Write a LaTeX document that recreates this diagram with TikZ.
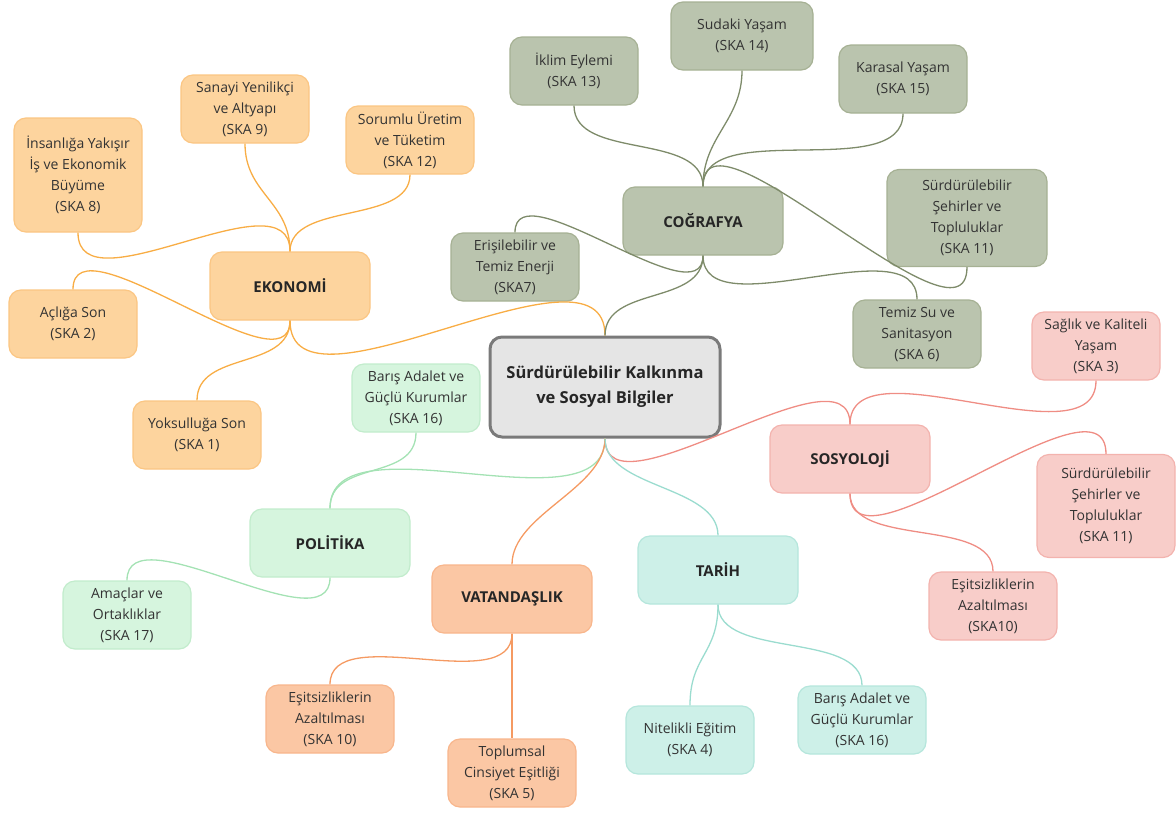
\documentclass[tikz,border=0pt]{standalone}
\usepackage{fontspec}
\setmainfont{Open Sans}
\definecolor{ekofill}{HTML}{FDD49E}
\definecolor{ekodraw}{HTML}{FBC683}
\definecolor{ekoline}{HTML}{F8AD45}
\definecolor{cogfill}{HTML}{BAC4AE}
\definecolor{cogdraw}{HTML}{A6B194}
\definecolor{cogline}{HTML}{7E8B6A}
\definecolor{sosfill}{HTML}{F8CDC9}
\definecolor{sosdraw}{HTML}{F3B3AE}
\definecolor{sosline}{HTML}{EF8D84}
\definecolor{polfill}{HTML}{D6F5DE}
\definecolor{poldraw}{HTML}{C2ECCC}
\definecolor{polline}{HTML}{A4E2B4}
\definecolor{vatfill}{HTML}{FBC7A4}
\definecolor{vatdraw}{HTML}{F8B68C}
\definecolor{vatline}{HTML}{F59A62}
\definecolor{tarfill}{HTML}{CDF0E8}
\definecolor{tardraw}{HTML}{B5E6DC}
\definecolor{tarline}{HTML}{9BDCCF}
\definecolor{textgray}{HTML}{333333}
\tikzset{
    box/.style={rounded corners=12pt, line width=1.2pt, align=center,
        minimum width=128pt, minimum height=68pt, inner sep=0pt,
        font=\fontsize{14}{21}\selectfont, text=textgray},
    topic/.style={box, minimum width=160pt, font=\fontsize{15}{21}\selectfont\bfseries, text=black!85},
    link/.style={line width=1.3pt},
}
\begin{document}
\begin{tikzpicture}[x=1pt,y=-1pt]
        \useasboundingbox (0,0) rectangle (1176,812);
        % centre
        \node[box, fill=black!10, draw=black!52, line width=3pt, minimum width=230pt,
            minimum height=100pt, font=\fontsize{16.5}{25}\selectfont\bfseries, text=black!85]
            (SKB) at (605,387) {Sürdürülebilir Kalkınma\\ve Sosyal Bilgiler};
        % ekonomi
        \begin{scope}[every node/.style={box,fill=ekofill,draw=ekodraw}]
            \node[topic] (EKO) at (290,286) {EKONOMİ};
            \node (SKA9) at (245,109) {Sanayi Yenilikçi\\ve Altyapı\\(SKA 9)};
            \node (SKA12) at (410,140) {Sorumlu Üretim\\ve Tüketim\\(SKA 12)};
            \node[minimum height=114pt] (SKA8) at (78,175) {İnsanlığa Yakışır\\İş ve Ekonomik\\Büyüme\\(SKA 8)};
            \node (SKA2) at (73,324) {Açlığa Son\\(SKA 2)};
            \node (SKA1) at (197,435) {Yoksulluğa Son\\(SKA 1)};
        \end{scope}
        % cografya
        \begin{scope}[every node/.style={box,fill=cogfill,draw=cogdraw}]
            \node[topic] (COG) at (703,221) {COĞRAFYA};
            \node (SKA13) at (574,71) {İklim Eylemi\\(SKA 13)};
            \node[minimum width=142pt] (SKA14) at (742,36) {Sudaki Yaşam\\(SKA 14)};
            \node (SKA15) at (903,79) {Karasal Yaşam\\(SKA 15)};
            \node[minimum width=160pt, minimum height=97pt] (SKA11c) at (967,218) {Sürdürülebilir\\Şehirler ve\\Topluluklar\\(SKA 11)};
            \node (SKA6) at (917,334) {Temiz Su ve\\Sanitasyon\\(SKA 6)};
            \node (SKA7) at (515,267) {Erişilebilir ve\\Temiz Enerji\\(SKA7)};
        \end{scope}
        % sosyoloji
        \begin{scope}[every node/.style={box,fill=sosfill,draw=sosdraw}]
            \node[topic] (SOS) at (850,459) {SOSYOLOJİ};
            \node (SKA3) at (1096,346) {Sağlık ve Kaliteli\\Yaşam\\(SKA 3)};
            \node[minimum width=138pt, minimum height=103pt] (SKA11s) at (1106,506) {Sürdürülebilir\\Şehirler ve\\Topluluklar\\(SKA 11)};
            \node (SKA10s) at (993,606) {Eşitsizliklerin\\Azaltılması\\(SKA10)};
        \end{scope}
        % politika
        \begin{scope}[every node/.style={box,fill=polfill,draw=poldraw}]
            \node[topic] (POL) at (330,543) {POLİTİKA};
            \node (SKA16p) at (416,398) {Barış Adalet ve\\Güçlü Kurumlar\\(SKA 16)};
            \node (SKA17) at (127,615) {Amaçlar ve\\Ortaklıklar\\(SKA 17)};
        \end{scope}
        % vatandaslik
        \begin{scope}[every node/.style={box,fill=vatfill,draw=vatdraw}]
            \node[topic] (VAT) at (512,599) {VATANDAŞLIK};
            \node (SKA10v) at (330,719) {Eşitsizliklerin\\Azaltılması\\(SKA 10)};
            \node (SKA5) at (512,773) {Toplumsal\\Cinsiyet Eşitliği\\(SKA 5)};
        \end{scope}
        % tarih
        \begin{scope}[every node/.style={box,fill=tarfill,draw=tardraw}]
            \node[topic] (TAR) at (718,570) {TARİH};
            \node (SKA4) at (690,740) {Nitelikli Eğitim\\(SKA 4)};
            \node (SKA16t) at (862,720) {Barış Adalet ve\\Güçlü Kurumlar\\(SKA 16)};
        \end{scope}
        % connectors
        \begin{scope}[link]
            \draw[ekoline] (EKO.north) .. controls +(0,-50) and +(0,50) .. (SKA9.south);
            \draw[ekoline] (EKO.north) .. controls +(0,-50) and +(0,50) .. (SKA12.south);
            \draw[ekoline] (EKO.north) .. controls +(0,-80) and +(0,80) .. (SKA8.south);
            \draw[ekoline] (EKO.south) .. controls +(0,75) and +(0,-75) .. (SKA2.north);
            \draw[ekoline] (EKO.south) .. controls +(0,50) and +(0,-50) .. (SKA1.north);
            \draw[ekoline] (EKO.south) .. controls +(0,110) and +(0,-110) .. (SKB.north);
            \draw[cogline] (COG.north) .. controls +(0,-55) and +(0,55) .. (SKA13.south);
            \draw[cogline] (COG.north) .. controls +(0,-50) and +(0,50) .. (SKA14.south);
            \draw[cogline] (COG.north) .. controls +(0,-70) and +(0,70) .. (SKA15.south);
            \draw[cogline] (COG.north) .. controls +(0,-95) and +(0,95) .. (SKA11c.south);
            \draw[cogline] (COG.south) .. controls +(0,65) and +(0,-65) .. (SKA7.north);
            \draw[cogline] (COG.south) .. controls +(0,75) and +(0,-75) .. (SKA6.north);
            \draw[cogline] (COG.south) .. controls +(0,50) and +(0,-50) .. (SKB.north);
            \draw[sosline] (SOS.north) .. controls +(0,-85) and +(0,85) .. (SKA3.south);
            \draw[sosline] (SOS.north) .. controls +(0,-85) and +(0,85) .. (SKB.south);
            \draw[sosline] (SOS.south) .. controls +(0,90) and +(0,-90) .. (SKA11s.north);
            \draw[sosline] (SOS.south) .. controls +(0,55) and +(0,-55) .. (SKA10s.north);
            \draw[polline] (POL.north) .. controls +(0,-50) and +(0,50) .. (SKA16p.south);
            \draw[polline] (POL.north) .. controls +(0,-95) and +(0,95) .. (SKB.south);
            \draw[polline] (POL.south) .. controls +(0,70) and +(0,-70) .. (SKA17.north);
            \draw[vatline] (VAT.north) .. controls +(0,-50) and +(0,50) .. (SKB.south);
            \draw[vatline] (VAT.south) .. controls +(0,65) and +(0,-65) .. (SKA10v.north);
            \draw[vatline] (VAT.south) -- (SKA5.north);
            \draw[tarline] (TAR.north) .. controls +(0,-50) and +(0,50) .. (SKB.south);
            \draw[tarline] (TAR.south) .. controls +(0,50) and +(0,-50) .. (SKA4.north);
            \draw[tarline] (TAR.south) .. controls +(0,55) and +(0,-55) .. (SKA16t.north);
        \end{scope}
    \end{tikzpicture}
\end{document}
